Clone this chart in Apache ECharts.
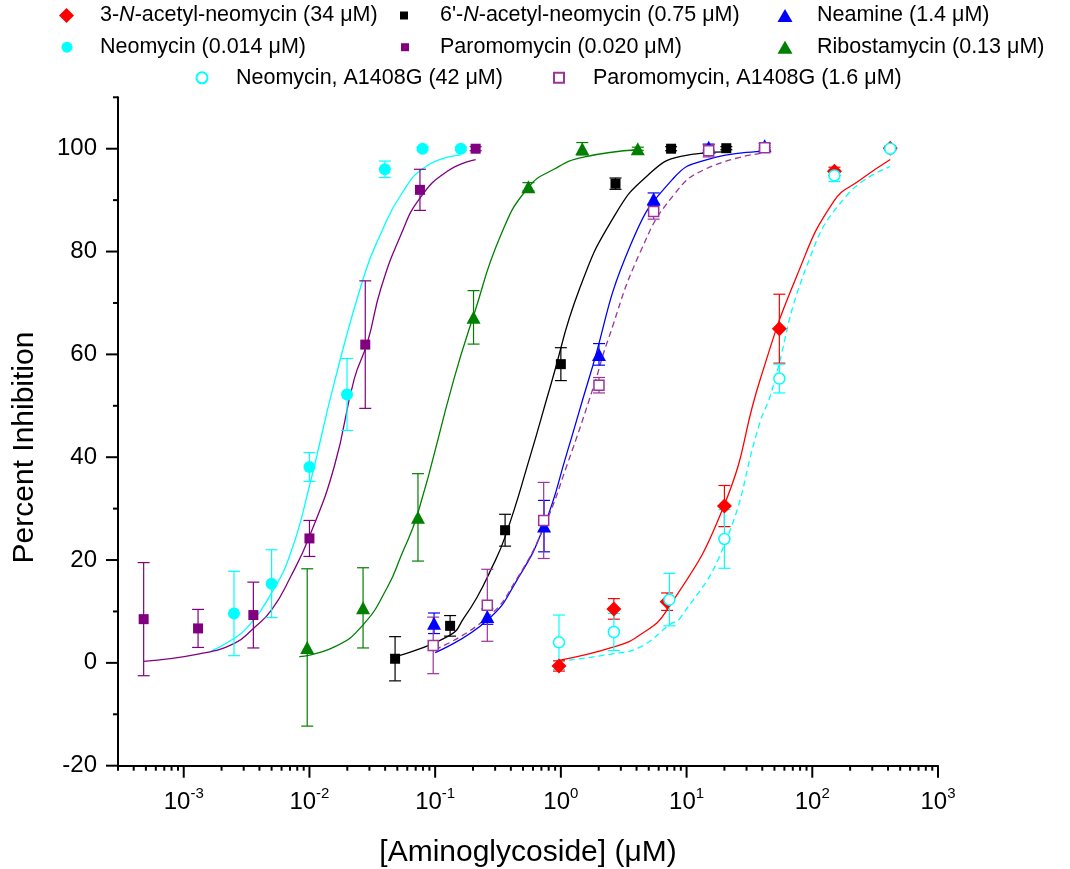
<!DOCTYPE html>
<html><head><meta charset="utf-8">
<script src="https://cdn.jsdelivr.net/npm/echarts@6/dist/echarts.min.js"></script>
<style>html,body{margin:0;padding:0;background:#fff}#c{width:1070px;height:869px}</style>
</head><body><div id="c"></div>
<script>
// ---------- DATA ----------
const seriesNames = [
  '3-N-acetyl-neomycin (34 μM)',
  "6'-N-acetyl-neomycin (0.75 μM)",
  'Neamine (1.4 μM)',
  'Neomycin (0.014 μM)',
  'Paromomycin (0.020 μM)',
  'Ribostamycin (0.13 μM)',
  'Neomycin, A1408G (42 μM)',
  'Paromomycin, A1408G (1.6 μM)'
];
// [concentration (μM), percent inhibition, error]
const acet3Pts = [[0.966,-0.6,1.0],[2.64,10.5,2.0],[7.0,11.9,1.7],[20.0,30.5,4.0],[54.7,65.0,6.7],[150,95.6,0.8],[417,100.1,0.4]];
const acet6Pts = [[0.048,0.8,4.3],[0.1315,7.2,2.0],[0.36,25.8,3.1],[1.0,58.1,3.2],[2.72,93.2,1.1],[7.53,100.0,0.4],[20.7,100.1,0.3]];
const neamPts = [[0.098,7.7,2.0],[0.26,9.0,1.5],[0.735,26.6,5.0],[2.01,60.0,2.1],[5.47,90.2,1.2],[15.0,100.3,0.6],[41.8,100.6,0.4]];
const neoPts = [[2.51e-3,9.6,8.2],[5.0e-3,15.4,6.6],[0.01,38.1,2.8],[0.0199,52.2,7.0],[0.0398,96.0,1.6],[0.0794,100.0,0.3],[0.16,100.0,0.3]];
const paroPts = [[4.8e-4,8.5,11.0],[1.3e-3,6.7,3.7],[3.58e-3,9.3,6.4],[0.01,24.2,3.5],[0.0278,61.9,12.4],[0.0757,92.0,4.0],[0.21,100.0,0.4]];
const riboPts = [[9.6e-3,3.0,15.3],[0.0267,10.7,7.8],[0.073,28.3,8.5],[0.202,67.2,5.2],[0.552,92.6,0.8],[1.48,100.0,1.2],[4.09,100.0,0.3]];
const neoMutPts = [[0.966,4.0,5.3],[2.64,6.0,3.6],[7.3,12.3,5.1],[20.0,24.1,5.7],[54.7,55.3,2.8],[150,94.8,1.2],[417,100.0,0.4]];
const paroMutPts = [[0.0965,3.4,5.5],[0.26,11.2,7.0],[0.73,27.7,7.4],[2.01,54.0,1.5],[5.47,87.8,1.5],[15.0,99.6,1.2],[41.8,100.2,0.4]];

// fitted curves, points
const acet3Fit = [[0.966,0.5],[2.64,3.1],[4.3,5.5],[7.0,10.3],[19.8,30.5],[38.6,55.2],[75.7,75.4],[147.6,89.7],[240,93.9],[417,97.9]];
const acet6Fit = [[0.048,1.2],[0.1315,5.4],[0.17,8.8],[0.217,12.9],[0.27,17.5],[0.36,24.5],[0.575,40.5],[0.83,54.0],[1.41,72.8],[2.69,87.1],[4.9,94.8],[9.0,98.5],[20.7,99.4]];
const neamFit = [[0.10,2.0],[0.26,8.3],[0.45,16.2],[0.735,26.6],[1.12,40.9],[1.67,55.2],[3.59,81.3],[7.9,94.3],[14.6,97.9],[41.8,99.5]];
const neoFit = [[1.66e-3,2.3],[2.53e-3,4.8],[3.24e-3,7.0],[5.0e-3,13.6],[7.1e-3,21.4],[0.01,34.4],[0.0158,54.6],[0.0273,75.4],[0.037,83.5],[0.0533,91.0],[0.085,96.6],[0.16,98.8]];
const paroFit = [[4.8e-4,0.3],[1.3e-3,1.7],[2.53e-3,3.8],[3.58e-3,6.7],[5.0e-3,10.3],[7.1e-3,16.8],[0.01,24.6],[0.0158,38.3],[0.0227,55.2],[0.029,62.4],[0.037,72.8],[0.0533,83.2],[0.0757,90.4],[0.125,95.6],[0.21,97.9]];
const riboFit = [[8.3e-3,1.2],[0.0158,3.1],[0.0267,7.4],[0.0419,14.8],[0.0533,20.7],[0.073,29.2],[0.141,55.2],[0.202,67.5],[0.333,83.2],[0.552,92.5],[0.88,96.0],[1.48,98.3],[4.09,99.8]];
const neoMutFit = [[0.966,0.3],[2.64,1.8],[4.3,3.1],[7.3,7.4],[9.0,8.9],[19.8,22.7],[38.6,47.0],[46.4,52.0],[90.8,77.3],[189,91.0],[417,96.5]];
const paroMutFit = [[0.10,2.6],[0.26,8.8],[0.45,16.5],[0.735,26.5],[1.12,38.5],[1.83,53.9],[2.34,62.4],[4.3,80.0],[7.9,91.0],[14.6,96.2],[41.8,99.2]];

// axes
const xMin = 3e-4, xMax = 1000, yMin = -20, yMax = 110;
const xMajorTicks = [1e-3,1e-2,1e-1,1,10,100,1000];
const yMajorTicks = [-20,0,20,40,60,80,100];
const yMinorTicks = [-10,10,30,50,70,90,110];
const xMinorTicks = [];
for (let d = -4; d <= 2; d++) for (let k = 2; k <= 9; k++) {
  const v = +(k * Math.pow(10, d)).toPrecision(6);
  if (v >= xMin * 0.999 && v <= xMax) xMinorTicks.push(v);
}

// ---------- STYLE ----------
const FONT = '"Liberation Sans", Arial, sans-serif';
const styles = [
  {color:'#FF0000', symbol:'diamond', size:[15,15], hollow:false, dashed:false, lg:{left:59, top:4.5, w:15, h:15, pad:21}},
  {color:'#000000', symbol:'rect', size:10, hollow:false, dashed:false, lg:{left:400, top:4.5, w:8, h:8, pad:27}},
  {color:'#0000FF', symbol:'triangle', size:[14,13], hollow:false, dashed:false, lg:{left:777.5, top:4.5, w:15, h:13, pad:19.5}},
  {color:'#00FFFF', symbol:'circle', size:12, hollow:false, dashed:false, lg:{left:61.5, top:36.2, w:11, h:11, pad:22.5}},
  {color:'#800080', symbol:'rect', size:10, hollow:false, dashed:false, lg:{left:401, top:36.2, w:8, h:8, pad:26}},
  {color:'#008000', symbol:'triangle', size:[14,13], hollow:false, dashed:false, lg:{left:777.5, top:36.2, w:15, h:13, pad:19.5}},
  {color:'#00FFFF', symbol:'circle', size:11, hollow:true, dashed:true, lg:{left:195.5, top:66.8, w:11, h:11, pad:23.5}},
  {color:'#9A359A', symbol:'rect', size:10, hollow:true, dashed:true, lg:{left:553, top:66.8, w:10, h:10, pad:24}}
];
const ptsList = [acet3Pts, acet6Pts, neamPts, neoPts, paroPts, riboPts, neoMutPts, paroMutPts];
const fitList = [acet3Fit, acet6Fit, neamFit, neoFit, paroFit, riboFit, neoMutFit, paroMutFit];

const series = [];
seriesNames.forEach((name, i) => {
  const st = styles[i];
  const color = st.color;
  series.push({
    name: name + ' fit', type: 'line', data: fitList[i], symbol: 'none', smooth: 0.5,
    silent: true, z: 2,
    lineStyle: {color, width: 1.3, type: st.dashed ? [6,4] : 'solid'}
  });
  series.push({
    name: name + ' err', type: 'custom', data: ptsList[i], z: 3, silent: true, clip: false,
    encode: {x: 0, y: 1},
    renderItem: (params, api) => {
      const x = api.value(0), y = api.value(1), e = api.value(2);
      const t = api.coord([x, y + e]), b = api.coord([x, y - e]);
      const s = {stroke: color, lineWidth: 1.2};
      return {type: 'group', children: [
        {type: 'line', shape: {x1: t[0], y1: t[1], x2: b[0], y2: b[1]}, style: s},
        {type: 'line', shape: {x1: t[0]-6, y1: t[1], x2: t[0]+6, y2: t[1]}, style: s},
        {type: 'line', shape: {x1: b[0]-6, y1: b[1], x2: b[0]+6, y2: b[1]}, style: s}
      ]};
    }
  });
  series.push({
    name, type: 'scatter', data: ptsList[i].map(p => [p[0], p[1]]), symbol: st.symbol,
    symbolSize: st.size, z: 5,
    itemStyle: st.hollow ? {color: '#ffffff', borderColor: color, borderWidth: 1.5, opacity: 1} : {color, opacity: 1}
  });
});

// axis ticks (drawn through the axis scales)
const xTickData = xMajorTicks.map(v => [v, yMin, 1]).concat(xMinorTicks.map(v => [v, yMin, 0]));
const yTickData = yMajorTicks.map(v => [xMin, v, 1]).concat(yMinorTicks.map(v => [xMin, v, 0]));
series.push({
  type: 'custom', data: xTickData, silent: true, clip: false, z: 10, encode: {x: 0, y: 1},
  renderItem: (params, api) => {
    const p = api.coord([api.value(0), api.value(1)]);
    const L = api.value(2) ? 12 : 5;
    return {type: 'line', shape: {x1: p[0], y1: p[1], x2: p[0], y2: p[1] + L}, style: {stroke: '#000', lineWidth: 2}};
  }
});
series.push({
  type: 'custom', data: yTickData, silent: true, clip: false, z: 10, encode: {x: 0, y: 1},
  renderItem: (params, api) => {
    const p = api.coord([api.value(0), api.value(1)]);
    const L = api.value(2) ? 12 : 5;
    return {type: 'line', shape: {x1: p[0], y1: p[1], x2: p[0] - L, y2: p[1]}, style: {stroke: '#000', lineWidth: 2}};
  }
});

const legends = seriesNames.map((name, i) => {
  const lg = styles[i].lg;
  return {
    data: [name], left: lg.left, top: lg.top, padding: 0, itemWidth: lg.w, itemHeight: lg.h,
    selectedMode: false,
    formatter: n => n.replace('-N-', '-{i|N}-'),
    textStyle: {fontFamily: FONT, fontSize: 21.5, color: '#000', padding: [0,0,0,lg.pad],
      rich: {i: {fontFamily: FONT, fontSize: 21.5, fontStyle: 'italic', color: '#000'}}}
  };
});

const chart = echarts.init(document.getElementById('c'), null, {renderer: 'canvas'});
chart.setOption({
  animation: false,
  backgroundColor: '#fff',
  grid: {left: 118, right: 132, top: 97.3, bottom: 103.3, containLabel: false, outerBoundsMode: 'none'},
  legend: legends,
  xAxis: {
    type: 'log', logBase: 10, min: xMin, max: xMax, splitNumber: 7,
    name: '[Aminoglycoside] (μM)', nameLocation: 'middle', nameGap: 72,
    nameTextStyle: {fontFamily: FONT, fontSize: 30, color: '#000'},
    axisLine: {show: true, onZero: false, lineStyle: {color: '#000', width: 2}},
    axisTick: {show: false}, minorTick: {show: false}, splitLine: {show: false},
    axisLabel: {
      margin: 21, color: '#000', fontFamily: FONT, showMinLabel: true, showMaxLabel: true,
      formatter: v => {
        const e = Math.log10(v), r = Math.round(e);
        if (Math.abs(e - r) > 1e-6) return '';
        return '{b|10}{s|' + r + '}';
      },
      rich: {
        b: {fontFamily: FONT, fontSize: 24, lineHeight: 32, color: '#000'},
        s: {fontFamily: FONT, fontSize: 15, lineHeight: 15, verticalAlign: 'top', color: '#000'}
      }
    }
  },
  yAxis: {
    type: 'value', min: yMin, max: yMax, interval: 20,
    name: 'Percent Inhibition', nameLocation: 'middle', nameGap: 78,
    nameTextStyle: {fontFamily: FONT, fontSize: 30, color: '#000', padding: [0, 32, 0, 0]},
    axisLine: {show: true, onZero: false, lineStyle: {color: '#000', width: 2}},
    axisTick: {show: false}, splitLine: {show: false},
    axisLabel: {margin: 21, color: '#000', fontFamily: FONT, fontSize: 24,
      formatter: v => (v > 100 ? '' : String(v))}
  },
  series
});
</script>
</body></html>
